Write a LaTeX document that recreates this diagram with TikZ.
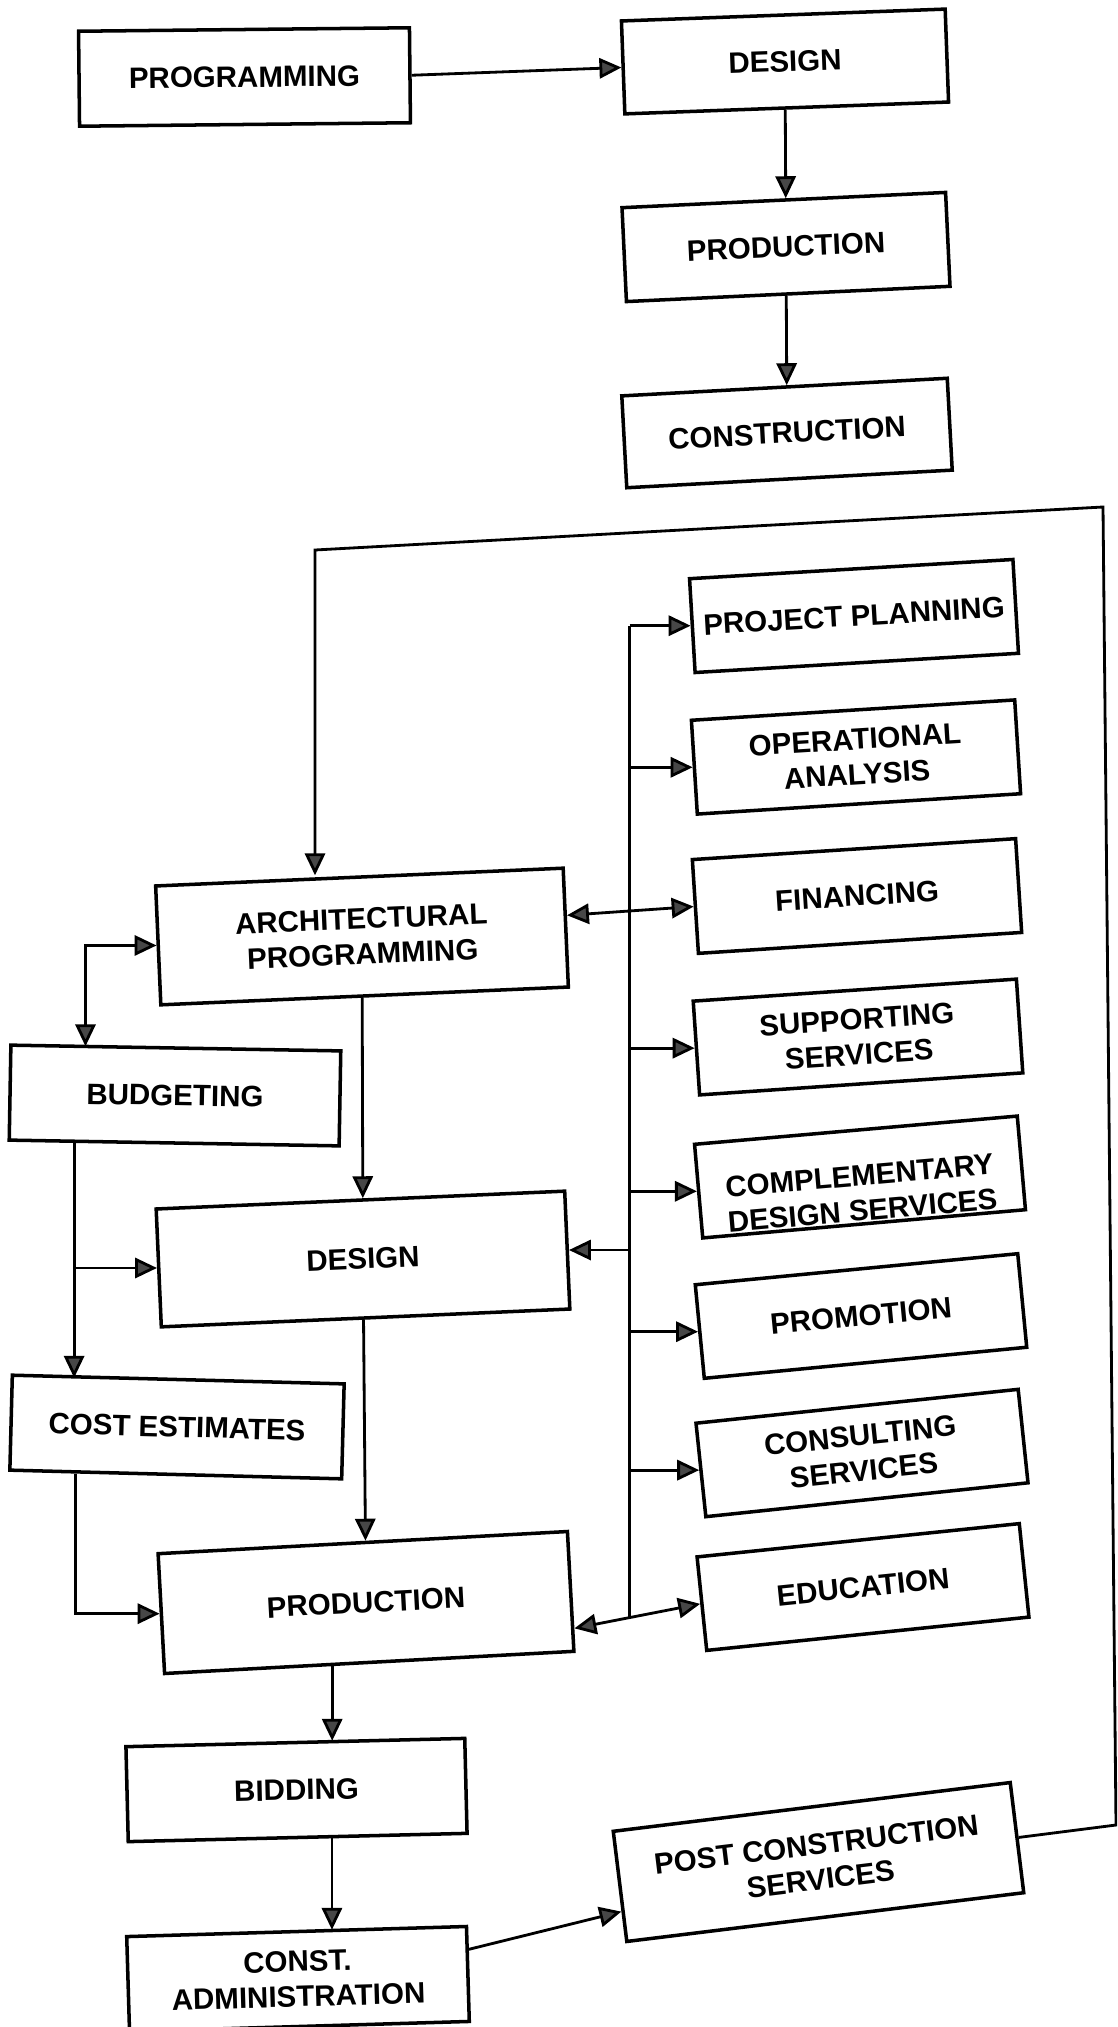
\documentclass[tikz,border=0pt]{standalone}
\usepackage{fontspec}
\setmainfont{Liberation Sans}
\usetikzlibrary{arrows.meta,calc}
\begin{document}
\begin{tikzpicture}[x=0.02cm,y=-0.02cm,
  box/.style={draw, line width=2pt, rectangle, align=center, inner sep=0pt,
    font=\bfseries\fontsize{16.8}{20}\selectfont},
  txt/.style={align=center, inner sep=0pt, font=\bfseries\fontsize{16.8}{20}\selectfont},
  wide/.style={box, minimum width=6.48cm, minimum height=1.88cm},
  link/.style={line width=1.6pt},
  >={Triangle[length=12.5pt,width=11.5pt,fill=black!72]},
]
\useasboundingbox (0,0) rectangle (1117,2027);
\clip (0,0) rectangle (1117,2027);
\fill[white] (0,0) rectangle (1117,2027);

% ---- summary chain at the top ----
\node[box, minimum width=6.62cm, minimum height=1.9cm, rotate=0.6] (prog) at (244.5,77) {PROGRAMMING};
\node[box, minimum width=6.48cm, minimum height=1.86cm, rotate=2.1] (d1) at (785,61.5) {DESIGN};
\node[box, minimum width=6.48cm, minimum height=1.88cm, rotate=2.7] (p1) at (786,247) {PRODUCTION};
\node[box, minimum width=6.52cm, minimum height=1.84cm, rotate=3.1] (c1) at (787,433) {CONSTRUCTION};

\draw[link,->] (prog.east) -- (d1.west);
\draw[link,->] (d1) -- (p1);
\draw[link,->] (p1) -- (c1);

% ---- services column ----
\node[wide, rotate=3.4] (pp) at (854,616) {PROJECT PLANNING};
\node[wide, rotate=3.6] (oa) at (856,757) {OPERATIONAL\\ANALYSIS};
\node[wide, rotate=3.7] (fin) at (857,896) {FINANCING};
\node[wide, rotate=3.9] (ss) at (858,1037) {SUPPORTING\\SERVICES};
\node[wide, rotate=5.0] (cds) at (860,1177) {};
\node[txt, rotate=5.0] (cdstext) at ($(cds.center)+(1,16)$) {COMPLEMENTARY\\DESIGN SERVICES};
\node[wide, rotate=5.5] (prom) at (861,1316) {PROMOTION};
\node[wide, rotate=6.0] (cons) at (862,1453) {CONSULTING\\SERVICES};
\node[wide, rotate=5.9] (edu) at (863,1587) {EDUCATION};
\node[box, minimum width=8.0cm, minimum height=2.22cm, rotate=7.0] (pcs) at (818.5,1862) {POST CONSTRUCTION\\SERVICES};

% ---- main process column ----
\node[box, minimum width=8.16cm, minimum height=2.38cm, rotate=2.5] (arch) at (362,936.5) {ARCHITECTURAL\\PROGRAMMING};
\node[box, minimum width=6.6cm, minimum height=1.9cm, rotate=-1] (bud) at (175,1095.5) {BUDGETING};
\node[box, minimum width=8.18cm, minimum height=2.36cm, rotate=2.5] (des) at (363,1259) {DESIGN};
\node[box, minimum width=6.64cm, minimum height=1.9cm, rotate=-1.5] (ce) at (177,1427) {COST ESTIMATES};
\node[box, minimum width=8.2cm, minimum height=2.4cm, rotate=3.1] (prod) at (366,1602.5) {PRODUCTION};
\node[box, minimum width=6.78cm, minimum height=1.9cm, rotate=1.4] (bid) at (296.5,1790) {BIDDING};
\node[box, minimum width=6.8cm, minimum height=1.9cm, rotate=1.7] (ca) at (298,1979) {CONST.\\ADMINISTRATION};

% ---- main column connectors ----
\draw[link,->] (arch) -- (des);
\draw[link,->] (des) -- (prod);
\coordinate (pb) at ($(prod.south west)!0.41!(prod.south east)$);
\draw[link,->] (pb) -- (pb |- bid.north);
\coordinate (bdb) at ($(bid.south west)!0.6!(bid.south east)$);
\draw[link,->] (bdb) -- (bdb |- ca.north);
\draw[link,->] ($(ca.north east)!0.25!(ca.south east)$) -- ($(pcs.north west)!0.72!(pcs.south west)$);

% budgeting and cost estimate branches
\coordinate (aL) at ($(arch.west)+(-71,0)$);
\draw[link,<->] (arch.west) -- (aL) -- (aL |- bud.north);
\coordinate (bx) at ($(bud.south west)!0.2!(bud.south east)$);
\draw[link,->] (bx) -- (bx |- ce.north);
\draw[link,->] (bx |- des.west) -- (des.west);
\coordinate (cx) at ($(ce.south west)!0.2!(ce.south east)$);
\draw[link,->] (cx) |- (prod.west);

% ---- service bus ----
\coordinate (pe) at ($(prod.north east)!0.8!(prod.south east)$);
\draw[link,<->] (pe) -- (edu.west);
\coordinate (bb) at ($(pe)!0.44!(edu.west)$);
\draw[link] (bb) -- (bb |- pp.west);
\draw[link,->] (bb |- pp.west) -- (pp.west);
\draw[link,->] (bb |- oa.west) -- (oa.west);
\draw[link,<->] ($(arch.north east)!0.4!(arch.south east)$) -- (fin.west);
\draw[link,->] (bb |- ss.west) -- (ss.west);
\draw[link,->] (bb |- cds.west) -- (cds.west);
\draw[link,->] (bb |- des.east) -- (des.east);
\draw[link,->] (bb |- prom.west) -- (prom.west);
\draw[link,->] (bb |- cons.west) -- (cons.west);

% ---- feedback loop ----
\coordinate (cBR) at (1116,1825);
\coordinate (cTR) at (1103,507);
\coordinate (cTL) at (315,550);
\draw[link,->] (pcs.east) -- (cBR) -- (cTR) -- (cTL) -- (cTL |- arch.north);
\end{tikzpicture}
\end{document}
